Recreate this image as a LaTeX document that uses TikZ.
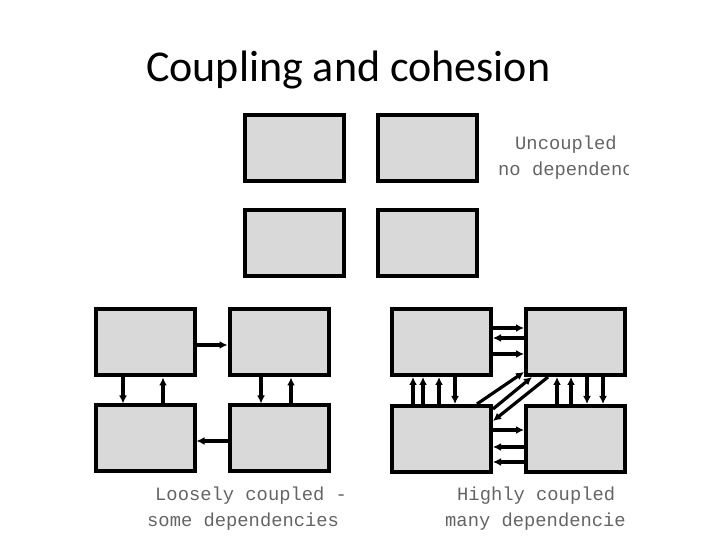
\documentclass[tikz,border=0pt]{standalone}
\usepackage{fontspec}
\setmainfont{Carlito}
\newfontfamily\monofont{Liberation Mono}
\usetikzlibrary{arrows.meta}
\definecolor{boxgray}{RGB}{217,217,217}
\definecolor{txtgray}{RGB}{100,100,100}
\tikzset{
  module/.style={draw=black, fill=boxgray, line width=4pt, minimum width=99pt, minimum height=66pt, inner sep=0pt},
  dep/.style={line width=3.2pt, -{Latex[length=8pt,width=8pt]}},
  caption/.style={anchor=base west, inner sep=0pt, text=txtgray, font=\monofont\fontsize{18.8}{22}\selectfont},
}
\begin{document}
\begin{tikzpicture}[x=1pt,y=1pt]
\useasboundingbox (0,0) rectangle (720,540);
% title
\node[anchor=base west, inner sep=0pt, font=\fontsize{44}{50}\selectfont] (title) at (146,458) {Coupling and cohesion};

% uncoupled
\node[module] (a1) at (294,392) {};
\node[module] (a2) at (427.5,392) {};
\node[module] (a3) at (294,296.5) {};
\node[module] (a4) at (427.5,296.5) {};
\begin{scope}
\clip (0,0) rectangle (628,540);
\node[caption] (t1) at (515,390) {Uncoupled};
\node[caption] (t2) at (498,364) {no dependenc};
\node[caption] (t6) at (445,13) {many dependencie};
\end{scope}

% loosely coupled
\node[module] (l1) at (145,197.5) {};
\node[module] (l2) at (279,197.5) {};
\node[module] (l3) at (145,101.5) {};
\node[module] (l4) at (279,101.5) {};
\draw[dep] ([yshift=-2.5pt]l1.east) -- ([yshift=-2.5pt]l2.west);
\draw[dep] ([yshift=-2.5pt]l4.west) -- ([yshift=-2.5pt]l3.east);
\draw[dep] ([xshift=-22pt]l1.south) -- ([xshift=-22pt]l3.north);
\draw[dep] ([xshift=18pt]l3.north) -- ([xshift=18pt]l1.south);
\draw[dep] ([xshift=-18pt]l2.south) -- ([xshift=-18pt]l4.north);
\draw[dep] ([xshift=12pt]l4.north) -- ([xshift=12pt]l2.south);
\node[caption] (t3) at (155,39) {Loosely coupled -};
\node[caption] (t4) at (147,13) {some dependencies};

% highly coupled
\node[module] (r1) at (441.5,198) {};
\node[module] (r2) at (575.5,198) {};
\node[module] (r3) at (441.5,101) {};
\node[module] (r4) at (575.5,101) {};
\draw[dep] ([yshift=14pt]r1.east) -- ([yshift=14pt]r2.west);
\draw[dep] ([yshift=4pt]r2.west) -- ([yshift=4pt]r1.east);
\draw[dep] ([yshift=-12pt]r1.east) -- ([yshift=-12pt]r2.west);
\draw[dep] ([yshift=9pt]r3.east) -- ([yshift=9pt]r4.west);
\draw[dep] ([yshift=-8pt]r4.west) -- ([yshift=-8pt]r3.east);
\draw[dep] ([yshift=-23pt]r4.west) -- ([yshift=-23pt]r3.east);
\draw[dep] ([xshift=-28.5pt]r3.north) -- ([xshift=-28.5pt]r1.south);
\draw[dep] ([xshift=-18.5pt]r3.north) -- ([xshift=-18.5pt]r1.south);
\draw[dep] ([xshift=-2.5pt]r3.north) -- ([xshift=-2.5pt]r1.south);
\draw[dep] ([xshift=13.5pt]r1.south) -- ([xshift=13.5pt]r3.north);
\draw[dep] ([xshift=-18.5pt]r4.north) -- ([xshift=-18.5pt]r2.south);
\draw[dep] ([xshift=-4.5pt]r4.north) -- ([xshift=-4.5pt]r2.south);
\draw[dep] ([xshift=11.5pt]r2.south) -- ([xshift=11.5pt]r4.north);
\draw[dep] ([xshift=27.5pt]r2.south) -- ([xshift=27.5pt]r4.north);
\draw[dep] ([xshift=35.5pt]r3.north) -- ([yshift=-30pt]r2.west);
\draw[dep] ([yshift=30pt]r3.east) -- ([xshift=-43.5pt]r2.south);
\draw[dep] ([xshift=-27.5pt]r2.south) -- ([yshift=18pt]r3.east);
\node[caption] (t5) at (457,39) {Highly coupled};
\end{tikzpicture}
\end{document}
